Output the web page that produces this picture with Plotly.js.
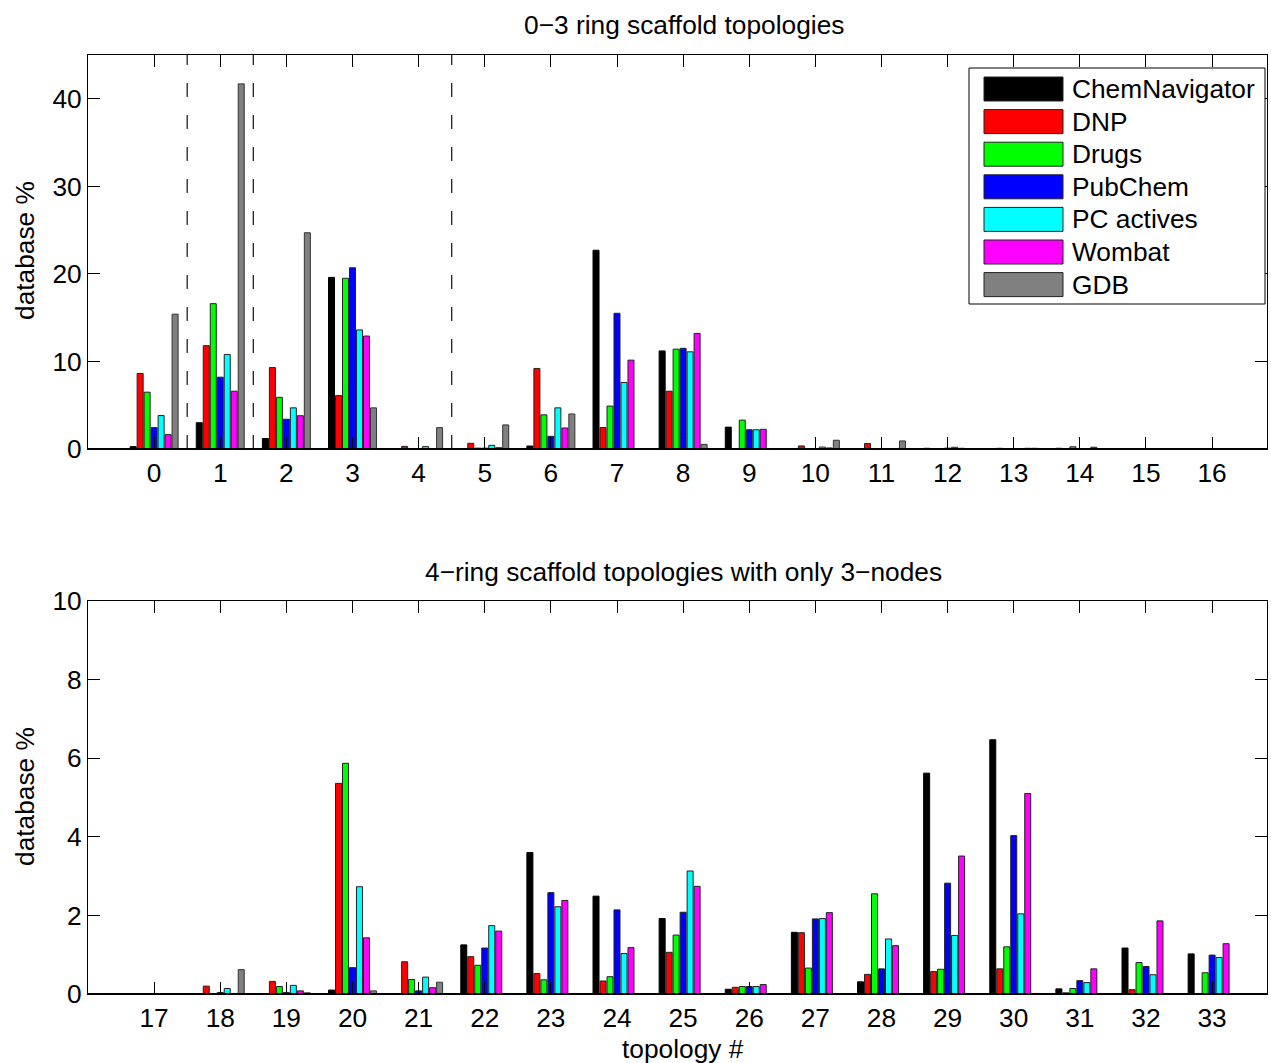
<!DOCTYPE html>
<html>
<head>
<meta charset="utf-8">
<script src="https://cdn.plot.ly/plotly-3.0.1.min.js"></script>
<style>html,body{margin:0;padding:0;background:#fff;}#chart{width:1271px;height:1063px;}</style>
</head>
<body>
<div id="chart"></div>
<script>
// ---------- DATA ----------
const seriesNames = ["ChemNavigator", "DNP", "Drugs", "PubChem", "PC actives", "Wombat", "GDB"];
const seriesColors = ["#000000", "#ff0000", "#00ff00", "#0000ff", "#00ffff", "#ff00ff", "#808080"];

const topTopologies = [0, 1, 2, 3, 4, 5, 6, 7, 8, 9, 10, 11, 12, 13, 14, 15, 16];
const topChemNavigator = [0.27, 3.0, 1.2, 19.6, 0.03, 0.05, 0.34, 22.7, 11.2, 2.5, 0.05, 0.03, 0.08, 0.05, 0.08, 0.0, 0.0];
const topDNP           = [8.63, 11.8, 9.3, 6.1, 0.3, 0.65, 9.2, 2.45, 6.6, 0.05, 0.35, 0.62, 0.05, 0.08, 0.03, 0.0, 0.0];
const topDrugs         = [6.49, 16.6, 5.9, 19.5, 0.05, 0.1, 3.9, 4.9, 11.4, 3.3, 0.05, 0.05, 0.05, 0.03, 0.25, 0.05, 0.05];
const topPubChem       = [2.44, 8.2, 3.4, 20.7, 0.05, 0.1, 1.45, 15.5, 11.5, 2.2, 0.05, 0.03, 0.1, 0.05, 0.05, 0.0, 0.0];
const topPCactives     = [3.82, 10.8, 4.7, 13.6, 0.27, 0.42, 4.7, 7.6, 11.1, 2.2, 0.22, 0.03, 0.2, 0.03, 0.05, 0.0, 0.0];
const topWombat        = [1.64, 6.6, 3.8, 12.9, 0.05, 0.15, 2.4, 10.15, 13.2, 2.25, 0.12, 0.03, 0.08, 0.08, 0.2, 0.05, 0.0];
const topGDB           = [15.4, 41.7, 24.7, 4.7, 2.44, 2.75, 4.0, 0.0, 0.53, 0.0, 1.0, 0.92, 0.0, 0.08, 0.0, 0.05, 0.0];

const bottomTopologies = [17, 18, 19, 20, 21, 22, 23, 24, 25, 26, 27, 28, 29, 30, 31, 32, 33];
const botChemNavigator = [0.0, 0.0, 0.01, 0.1, 0.01, 1.25, 3.6, 2.49, 1.92, 0.12, 1.57, 0.31, 5.62, 6.47, 0.13, 1.17, 1.02];
const botDNP           = [0.01, 0.2, 0.32, 5.36, 0.82, 0.95, 0.52, 0.33, 1.06, 0.17, 1.56, 0.5, 0.57, 0.64, 0.03, 0.11, 0.01];
const botDrugs         = [0.01, 0.01, 0.19, 5.87, 0.37, 0.73, 0.36, 0.44, 1.5, 0.19, 0.66, 2.55, 0.63, 1.2, 0.14, 0.8, 0.54];
const botPubChem       = [0.01, 0.04, 0.04, 0.67, 0.08, 1.17, 2.58, 2.14, 2.08, 0.19, 1.91, 0.64, 2.82, 4.03, 0.34, 0.7, 0.99];
const botPCactives     = [0.01, 0.14, 0.22, 2.73, 0.43, 1.74, 2.22, 1.03, 3.13, 0.19, 1.92, 1.4, 1.49, 2.04, 0.29, 0.49, 0.93];
const botWombat        = [0.01, 0.0, 0.08, 1.43, 0.16, 1.6, 2.38, 1.18, 2.74, 0.24, 2.07, 1.23, 3.51, 5.1, 0.64, 1.86, 1.28];
const botGDB           = [0.0, 0.62, 0.03, 0.08, 0.3, 0.0, 0.0, 0.0, 0.0, 0.0, 0.0, 0.0, 0.0, 0.0, 0.0, 0.0, 0.0];

const topTickVals = [0, 10, 20, 30, 40];
const bottomTickVals = [0, 2, 4, 6, 8, 10];
const ringSeparators = [0.5, 1.5, 4.5];

const topTitle = "0\u22123 ring scaffold topologies";
const bottomTitle = "4\u2212ring scaffold topologies with only 3\u2212nodes";
const yTitle = "database %";
const xTitle = "topology #";

// ---------- BUILD ----------
const topSeries = [topChemNavigator, topDNP, topDrugs, topPubChem, topPCactives, topWombat, topGDB];
const botSeries = [botChemNavigator, botDNP, botDrugs, botPubChem, botPCactives, botWombat, botGDB];

const FONT = "Liberation Sans, Arial, Helvetica, sans-serif";
const FS = 26.3;
const W = 1271, H = 1063;
const M = {l: 88, r: 4, t: 55, b: 69};
const PW = W - M.l - M.r, PH = H - M.t - M.b;
const px = x => (x - M.l) / PW;
const py = y => (H - M.b - y) / PH;

const edgeColors = ["#000000", "#222222", "#222222", "#222222", "#222222", "#222222", "#333333"];
const traces = [];
seriesNames.forEach((name, i) => {
  traces.push({type: "bar", x: topTopologies, y: topSeries[i], name: name,
    marker: {color: seriesColors[i], line: {color: edgeColors[i], width: 1}},
    xaxis: "x", yaxis: "y", showlegend: false, hoverinfo: "x+y+name"});
});
seriesNames.forEach((name, i) => {
  traces.push({type: "bar", x: bottomTopologies, y: botSeries[i], name: name,
    marker: {color: seriesColors[i], line: {color: edgeColors[i], width: 1}},
    xaxis: "x2", yaxis: "y2", showlegend: false, hoverinfo: "x+y+name"});
});

const axBase = {
  showline: true, linecolor: "#000", linewidth: 1, mirror: "ticks",
  ticks: "inside", ticklen: 12, tickwidth: 1, tickcolor: "#000",
  showgrid: false, zeroline: false, fixedrange: true,
  tickfont: {family: FONT, size: FS, color: "#000"}
};
const topDomain = [py(449), py(55)];
const botDomain = [py(994), py(601)];

const layout = {
  width: W, height: H,
  margin: M,
  paper_bgcolor: "#fff", plot_bgcolor: "#fff",
  barmode: "group", bargap: 0.26, bargroupgap: 0.14,
  font: {family: FONT, size: FS, color: "#000"},
  xaxis: Object.assign({}, axBase, {domain: [0, 1], anchor: "y", range: [-1, 16.83],
    tickmode: "array", tickvals: topTopologies, ticktext: topTopologies.map(String)}),
  yaxis: Object.assign({}, axBase, {domain: topDomain, anchor: "x", range: [0, 45],
    tickmode: "array", tickvals: topTickVals}),
  xaxis2: Object.assign({}, axBase, {domain: [0, 1], anchor: "y2", range: [16, 33.83],
    tickmode: "array", tickvals: bottomTopologies, ticktext: bottomTopologies.map(String)}),
  yaxis2: Object.assign({}, axBase, {domain: botDomain, anchor: "x2", range: [0, 10],
    tickmode: "array", tickvals: bottomTickVals}),
  shapes: [],
  annotations: []
};

ringSeparators.forEach(s => {
  layout.shapes.push({type: "line", xref: "x", yref: "y domain", x0: s, x1: s, y0: 0, y1: 1,
    line: {color: "#222", width: 1.3, dash: "14px,18px"}, layer: "above"});
});
// bar baselines (MATLAB draws a baseline at 0)
[["x domain", "y"], ["x2 domain", "y2"]].forEach(([xr, yr]) => {
  layout.shapes.push({type: "line", xref: xr, yref: yr, x0: 0, x1: 1, y0: 0, y1: 0,
    line: {color: "#000", width: 2}, layer: "above"});
});

// titles
const ann = (text, x, y, extra) => Object.assign({text: text, xref: "paper", yref: "paper",
  x: px(x), y: py(y), xanchor: "center", yanchor: "middle", showarrow: false,
  font: {family: FONT, size: FS, color: "#000"}}, extra || {});
layout.annotations.push(ann(topTitle, 684, 25));
layout.annotations.push(ann(bottomTitle, 683, 572));
layout.annotations.push(ann(xTitle, 683, 1049));
layout.annotations.push(ann(yTitle, 25, 251, {textangle: -90}));
layout.annotations.push(ann(yTitle, 25, 797, {textangle: -90}));

// custom MATLAB-style legend
const LG = {x0: 969, x1: 1265, y0: 68, y1: 304};
layout.shapes.push({type: "rect", xref: "paper", yref: "paper",
  x0: px(LG.x0), x1: px(LG.x1), y0: py(LG.y1), y1: py(LG.y0),
  fillcolor: "#fff", line: {color: "#000", width: 1}, layer: "above"});
seriesNames.forEach((name, i) => {
  const cy = 89 + i * 32.6;
  layout.shapes.push({type: "rect", xref: "paper", yref: "paper",
    x0: px(984), x1: px(1063), y0: py(cy + 12), y1: py(cy - 12),
    fillcolor: seriesColors[i], line: {color: "#222", width: 1}, layer: "above"});
  layout.annotations.push({text: name, xref: "paper", yref: "paper", x: px(1070), y: py(cy),
    xanchor: "left", yanchor: "middle", showarrow: false,
    font: {family: FONT, size: FS, color: "#000"}});
});

Plotly.newPlot("chart", traces, layout, {displayModeBar: false, staticPlot: true});
</script>
</body>
</html>
